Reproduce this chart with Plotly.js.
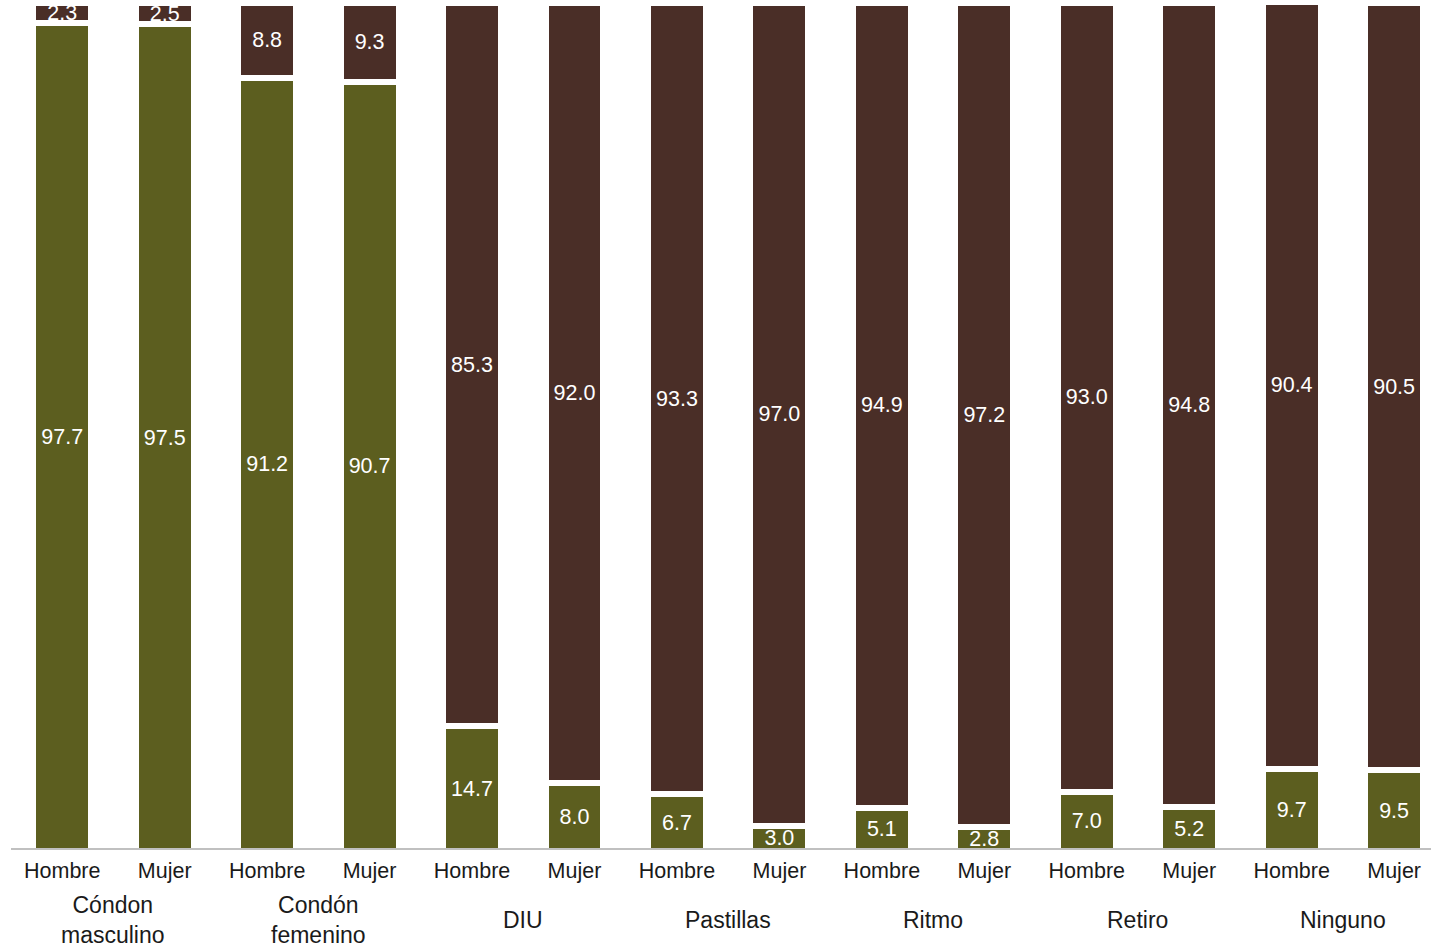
<!DOCTYPE html>
<html>
<head>
<meta charset="utf-8">
<script src="https://cdn.plot.ly/plotly-3.0.1.min.js"></script>
<style>html,body{margin:0;padding:0;background:#fff;}#chart{width:1431px;height:948px;}</style>
</head>
<body>
<div id="chart"></div>
<script>
// ---- data ----
const groups = ["Cóndon<br>masculino", "Condón<br>femenino", "DIU", "Pastillas", "Ritmo", "Retiro", "Ninguno"];
const sexes = ["Hombre", "Mujer"];
const greenValues = [97.7, 97.5, 91.2, 90.7, 14.7, 8.0, 6.7, 3.0, 5.1, 2.8, 7.0, 5.2, 9.7, 9.5];
const brownValues = [2.3, 2.5, 8.8, 9.3, 85.3, 92.0, 93.3, 97.0, 94.9, 97.2, 93.0, 94.8, 90.4, 90.5];

// category keys (unique) and their tick labels
const cats = [];
const tickLabels = [];
groups.forEach(g => sexes.forEach(s => { cats.push(g + "|" + s); tickLabels.push(s); }));

const GREEN = "#5c5e1f";
const BROWN = "#4a2e27";
const FONT = "Liberation Sans, Arial, sans-serif";

function barTrace(vals, color) {
  return {
    type: "bar",
    x: cats,
    y: vals,
    width: 0.566,
    marker: { color: color, line: { color: "#ffffff", width: 6 } },
    text: vals.map(v => v.toFixed(1)),
    textposition: "inside",
    insidetextanchor: "middle",
    textangle: 0,
    constraintext: "none",
    textfont: { family: FONT, size: 21.5, color: "#ffffff" },
    hoverinfo: "skip",
    showlegend: false,
    cliponaxis: true
  };
}

const data = [barTrace(greenValues, GREEN), barTrace(brownValues, BROWN)];

const annotations = groups.map((g, i) => ({
  xref: "x", yref: "paper",
  x: 2 * i + 0.5, y: -0.0852,
  xanchor: "center", yanchor: "middle",
  text: g, showarrow: false,
  font: { family: FONT, size: 23, color: "#1a1a1a" }
}));

const layout = {
  width: 1431, height: 948,
  margin: { l: 11, r: 0, t: 3, b: 100, pad: 0 },
  paper_bgcolor: "#ffffff", plot_bgcolor: "#ffffff",
  barmode: "stack",
  xaxis: {
    type: "category",
    range: [-0.5, 13.36],
    tickvals: cats, ticktext: tickLabels,
    ticks: "", ticklabelstandoff: 3,
    showgrid: false, zeroline: false,
    showline: true, linecolor: "#c0c0c0", linewidth: 1.5,
    tickfont: { family: FONT, size: 21.5, color: "#1a1a1a" },
    fixedrange: true
  },
  yaxis: {
    range: [0.35, 100],
    visible: false, showgrid: false, zeroline: false, fixedrange: true
  },
  annotations: annotations,
  font: { family: FONT }
};

Plotly.newPlot("chart", data, layout, { displayModeBar: false, staticPlot: true });
</script>
</body>
</html>
